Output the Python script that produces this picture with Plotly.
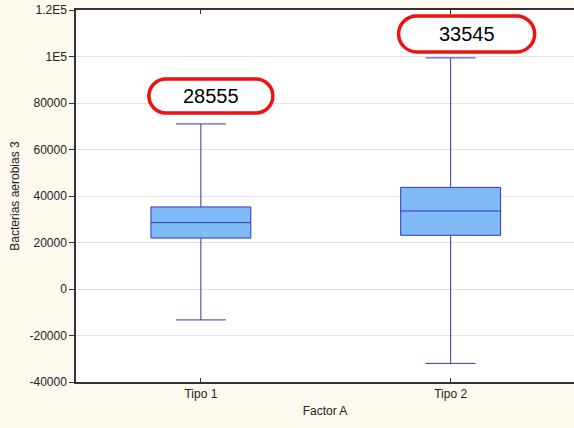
import plotly.graph_objects as go

# data
grupos = ['Tipo 1', 'Tipo 2']
mediana = [28555, 33545]
q1 = [21900, 23100]
q3 = [35300, 43700]
minimo = [-13300, -32000]
maximo = [71000, 99400]
etiquetas = ['28555', '33545']

tick_vals = [-40000, -20000, 0, 20000, 40000, 60000, 80000, 100000, 120000]
tick_text = ['-40000', '-20000', '0', '20000', '40000', '60000', '80000', '1E5', '1.2E5']

# label pill: offset (px) from whisker top, half width, half height
pill_estilo = [dict(dx=10, dy=28, w=62, h=17), dict(dx=16, dy=24, w=68, h=18)]

fig = go.Figure()
fig.add_trace(go.Box(
    x=grupos, q1=q1, median=mediana, q3=q3,
    lowerfence=minimo, upperfence=maximo,
    fillcolor='#80BBF8', line=dict(color='#3535B5', width=1),
    width=0.4, whiskerwidth=0.5, boxpoints=False, showlegend=False,
    hoverinfo='skip'))

for i, g in enumerate(grupos):
    p = pill_estilo[i]
    cx, cy, w, h = p['dx'], p['dy'], p['w'], p['h']
    r = h
    k = 0.55 * r
    path = (f'M {cx - w + r},{cy + h} L {cx + w - r},{cy + h} '
            f'C {cx + w - r + k},{cy + h} {cx + w},{cy + k} {cx + w},{cy} '
            f'C {cx + w},{cy - k} {cx + w - r + k},{cy - h} {cx + w - r},{cy - h} '
            f'L {cx - w + r},{cy - h} '
            f'C {cx - w + r - k},{cy - h} {cx - w},{cy - k} {cx - w},{cy} '
            f'C {cx - w},{cy + k} {cx - w + r - k},{cy + h} {cx - w + r},{cy + h} Z')
    fig.add_shape(type='path', path=path, xref='x', yref='y',
                  xsizemode='pixel', ysizemode='pixel',
                  xanchor=i, yanchor=maximo[i],
                  line=dict(color='#EE1111', width=3.5), fillcolor='white', layer='above')
    fig.add_annotation(x=g, y=maximo[i], text=etiquetas[i], showarrow=False,
                       xshift=cx, yshift=cy, font=dict(size=20, color='black',
                                                        family='Liberation Sans, Arial'))

fig.update_layout(
    width=574, height=428,
    margin=dict(l=76, r=0, t=10, b=46),
    paper_bgcolor='#FDF9EE', plot_bgcolor='white',
    font=dict(family='Liberation Sans, Arial', size=12, color='#222222'),
)
fig.update_xaxes(range=[-0.5, 1.494], showline=True, linecolor='#333333', linewidth=1.5,
                 mirror='ticks', ticks='inside', ticklen=4, tickcolor='#333333',
                 showgrid=False, title=dict(text='Factor A', standoff=6, font=dict(size=12)))
fig.update_yaxes(range=[-40000, 120000], tickvals=tick_vals, ticktext=tick_text,
                 showline=True, linecolor='#333333', linewidth=1.5, mirror=False,
                 ticks='outside', ticklen=5, tickcolor='#333333',
                 showgrid=True, gridcolor='#E2E2E2', zeroline=False,
                 title=dict(text='Bacterias aerobias 3', standoff=7, font=dict(size=12)))

fig.write_html('out.html', config={'displayModeBar': False},
               post_script="document.body.style.margin='0';document.body.style.overflow='hidden';")
